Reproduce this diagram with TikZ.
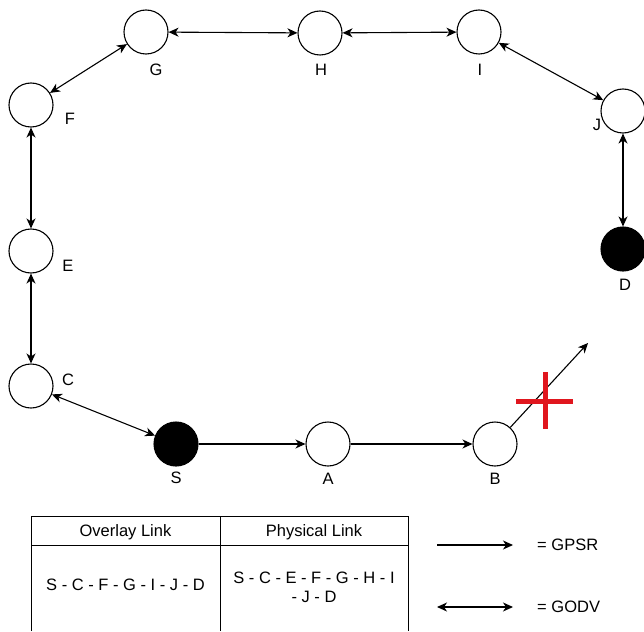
\documentclass[tikz,border=0pt]{standalone}
\usepackage{fontspec}
\setmainfont{Liberation Sans}
\usetikzlibrary{arrows.meta}
\begin{document}
\begin{tikzpicture}[x=1pt,y=-1pt,
  peer/.style={circle,draw,line width=1.1pt,minimum size=44pt,inner sep=0pt},
  dest/.style={peer,fill=black},
  tag/.style={font=\fontsize{16.5}{19}\selectfont,inner sep=0pt},
  cell/.style={font=\fontsize{16.5}{19}\selectfont,inner sep=0pt,align=center},
  link/.style={line width=1.1pt},
  tip/.tip={Stealth[length=10pt,width=9pt,inset=3pt]},
  gpsr/.style={link,-tip},
  godv/.style={link,tip-tip},
  cross/.style={line width=5pt,draw={rgb,255:red,224;green,22;blue,30}},
]
\useasboundingbox (0,0) rectangle (644,631);

% network nodes
\node[dest] (S) at (176,444) {};
\node[peer] (A) at (328,444) {};
\node[peer] (B) at (495,444) {};
\node[peer] (C) at (31,386) {};
\node[peer] (E) at (31,251) {};
\node[peer] (F) at (31,105) {};
\node[peer] (G) at (146,32) {};
\node[peer] (H) at (320,33) {};
\node[peer] (I) at (479,32) {};
\node[peer] (J) at (623,111) {};
\node[dest] (D) at (623,249) {};

% node names
\node[tag] (lS) at (176,478) {S};
\node[tag] (lA) at (328,479) {A};
\node[tag] (lB) at (495,479) {B};
\node[tag] (lC) at (68,380) {C};
\node[tag] (lE) at (68,266) {E};
\node[tag] (lF) at (70,119) {F};
\node[tag] (lG) at (156,70) {G};
\node[tag] (lH) at (321,70) {H};
\node[tag] (lI) at (480,70) {I};
\node[tag] (lJ) at (597,125) {J};
\node[tag] (lD) at (625,285) {D};

% greedy forwarding
\draw[gpsr] (S) -- (A);
\draw[gpsr] (A) -- (B);
\coordinate (lost) at (588,343);
\draw[gpsr] (B) -- (lost);

% broken forwarding mark
\coordinate (xl) at (516,401);
\coordinate (xr) at (573,401);
\coordinate (xt) at (545,372);
\coordinate (xb) at (545,429);
\draw[cross] (xl) -- (xr);
\draw[cross] (xt) -- (xb);

% overlay recovery path
\draw[godv] (C) -- (S);
\draw[godv] (C) -- (E);
\draw[godv] (E) -- (F);
\draw[godv] (F) -- (G);
\draw[godv] (G) -- (H);
\draw[godv] (H) -- (I);
\draw[godv] (I) -- (J);
\draw[godv] (J) -- (D);

% route table
\coordinate (t1) at (31,516);
\coordinate (t2) at (220,516);
\coordinate (t3) at (408,516);
\coordinate (b1) at (31,631);
\coordinate (b2) at (220,631);
\coordinate (b3) at (408,631);
\coordinate (h1) at (31,545);
\coordinate (h3) at (408,545);
\draw[line width=1pt] (b1) -- (t1) -- (t3) -- (b3);
\draw[line width=1pt] (t2) -- (b2);
\draw[line width=1pt] (h1) -- (h3);
\node[cell] (hOv) at (125.5,532) {Overlay Link};
\node[cell] (hPh) at (314,532) {Physical Link};
\node[cell] (rOv) at (125.5,585) {S - C - F - G - I - J - D};
\node[cell] (rPh) at (314,587) {S - C - E - F - G - H - I\\- J - D};

% legend
\coordinate (g1) at (437,545);
\coordinate (g2) at (513,545);
\coordinate (o1) at (437,607);
\coordinate (o2) at (513,607);
\draw[gpsr] (g1) -- (g2);
\draw[godv] (o1) -- (o2);
\node[tag,anchor=west] (kG) at (537,545) {= GPSR};
\node[tag,anchor=west] (kO) at (537,607) {= GODV};
\end{tikzpicture}
\end{document}
